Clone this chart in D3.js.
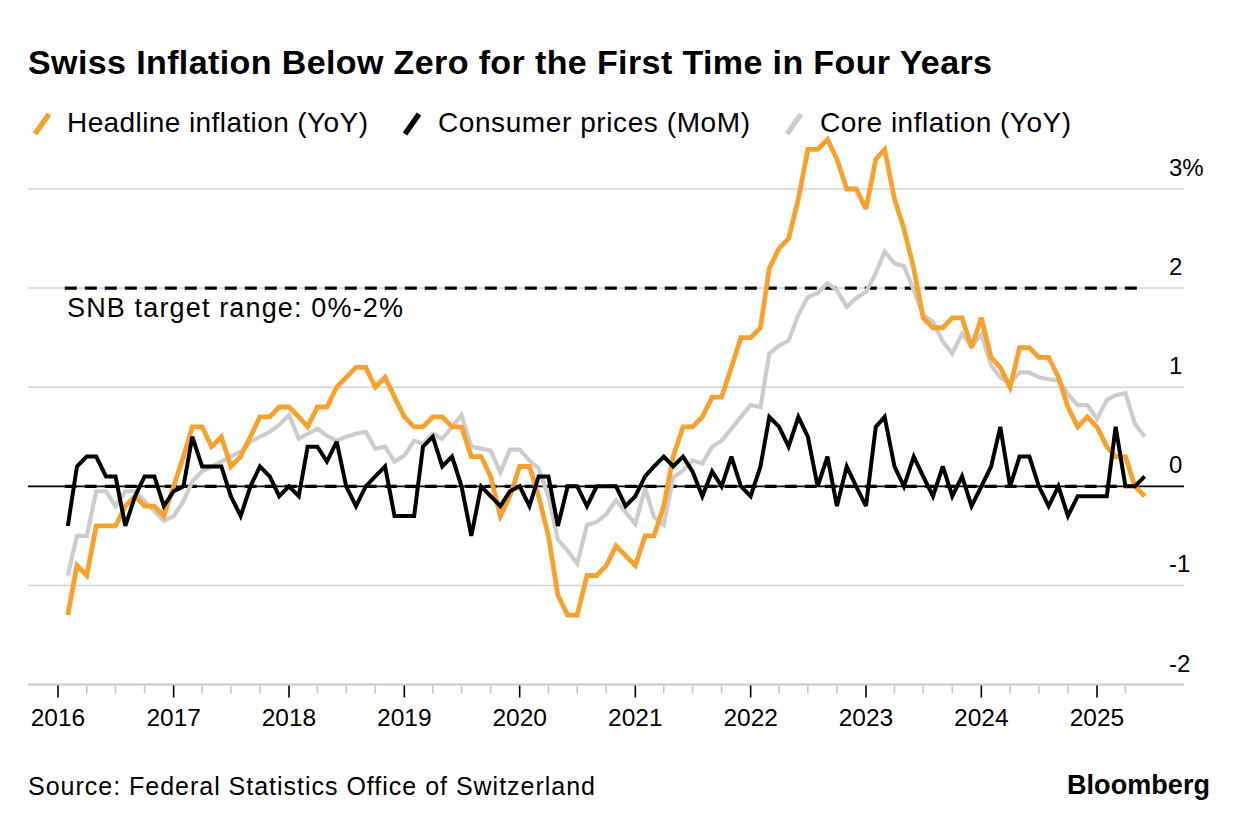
<!DOCTYPE html>
<html><head><meta charset="utf-8">
<script src="https://cdn.jsdelivr.net/npm/d3@7"></script>
<style>
body{margin:0;background:#fff;}
svg{display:block;}
text{font-family:"Liberation Sans",Arial,Helvetica,sans-serif;fill:#000;}
</style>
</head><body>
<svg id="chart" width="1240" height="828"></svg>
<script>
// ---------- DATA (monthly, Jan 2016 – May 2025) ----------
const firstMonth = [2016, 0]; // January 2016
const headline = [
  -1.3,-0.8,-0.9,-0.4,-0.4,-0.4,-0.2,-0.1,-0.2,-0.2,-0.3,0.0,
  0.3,0.6,0.6,0.4,0.5,0.2,0.3,0.5,0.7,0.7,0.8,0.8,
  0.7,0.6,0.8,0.8,1.0,1.1,1.2,1.2,1.0,1.1,0.9,0.7,
  0.6,0.6,0.7,0.7,0.6,0.6,0.3,0.3,0.1,-0.3,-0.1,0.2,
  0.2,-0.1,-0.5,-1.1,-1.3,-1.3,-0.9,-0.9,-0.8,-0.6,-0.7,-0.8,
  -0.5,-0.5,-0.2,0.3,0.6,0.6,0.7,0.9,0.9,1.2,1.5,1.5,
  1.6,2.2,2.4,2.5,2.9,3.4,3.4,3.5,3.3,3.0,3.0,2.8,
  3.3,3.4,2.9,2.6,2.2,1.7,1.6,1.6,1.7,1.7,1.4,1.7,
  1.3,1.2,1.0,1.4,1.4,1.3,1.3,1.1,0.8,0.6,0.7,0.6,
  0.4,0.3,0.3,0.0,-0.1
];
const mom = [
  -0.4,0.2,0.3,0.3,0.1,0.1,-0.4,-0.1,0.1,0.1,-0.2,-0.05,
  0.0,0.5,0.2,0.2,0.2,-0.1,-0.3,0.0,0.2,0.1,-0.1,0.0,
  -0.1,0.4,0.4,0.25,0.45,0.0,-0.2,0.0,0.1,0.2,-0.3,-0.3,
  -0.3,0.4,0.5,0.2,0.3,0.0,-0.5,0.0,-0.1,-0.2,-0.05,0.0,
  -0.2,0.1,0.1,-0.4,0.0,0.0,-0.2,0.0,0.0,0.0,-0.2,-0.1,
  0.1,0.2,0.3,0.2,0.3,0.15,-0.1,0.15,0.0,0.3,0.0,-0.1,
  0.2,0.7,0.6,0.4,0.7,0.5,0.0,0.3,-0.2,0.2,0.0,-0.2,
  0.6,0.7,0.2,0.0,0.3,0.1,-0.1,0.2,-0.1,0.1,-0.2,0.0,
  0.2,0.6,0.0,0.3,0.3,0.0,-0.2,0.0,-0.3,-0.1,-0.1,-0.1,
  -0.1,0.6,0.0,0.0,0.1
];
const core = [
  -0.9,-0.5,-0.5,-0.05,-0.05,-0.2,-0.05,-0.05,-0.15,-0.25,-0.35,-0.3,
  -0.15,0.05,0.15,0.2,0.25,0.3,0.35,0.45,0.5,0.55,0.62,0.72,
  0.48,0.53,0.58,0.51,0.46,0.5,0.53,0.55,0.38,0.4,0.25,0.31,
  0.46,0.43,0.53,0.48,0.6,0.72,0.4,0.38,0.36,0.14,0.37,0.37,
  0.26,0.18,-0.1,-0.54,-0.65,-0.78,-0.39,-0.36,-0.28,-0.14,-0.26,-0.38,
  -0.02,-0.31,-0.39,0.09,0.16,0.26,0.23,0.4,0.46,0.58,0.7,0.82,
  0.8,1.34,1.42,1.47,1.73,1.91,1.95,2.05,1.98,1.81,1.9,1.96,
  2.15,2.37,2.25,2.22,1.98,1.73,1.66,1.46,1.34,1.54,1.41,1.53,
  1.22,1.1,1.04,1.15,1.15,1.1,1.08,1.07,0.93,0.82,0.82,0.68,
  0.87,0.92,0.94,0.63,0.5
];
const yTicks = [-2,-1,0,1,2,3];
const yTickLabels = ["-2","-1","0","1","2","3%"];
const xYears = [2016,2017,2018,2019,2020,2021,2022,2023,2024,2025];
const targetRange = [0,2];
const seriesNames = ["Headline inflation (YoY)","Consumer prices (MoM)","Core inflation (YoY)"];
const titleText = "Swiss Inflation Below Zero for the First Time in Four Years";
const annotationText = "SNB target range: 0%-2%";
const sourceText = "Source: Federal Statistics Office of Switzerland";
const brandText = "Bloomberg";

// ---------- SETUP ----------
const colors = {headline:"#f9a12e", mom:"#000000", core:"#cccccc", grid:"#d3d3d3"};
const svg = d3.select("#chart");
// each monthly value plotted at end of its month
const dates = headline.map((_, i) => new Date(firstMonth[0], firstMonth[1] + i + 1, 1));

const x = d3.scaleTime()
  .domain([new Date(xYears[0],0,1), new Date(xYears[xYears.length-1],0,1)])
  .range([58, 1097]);
const y = d3.scaleLinear().domain([-2,3]).range([684.5,189]);
const left = 28, right = 1184;

function fitSpacing(sel, w){
  const node = sel.node();
  const len = node.getComputedTextLength();
  const n = node.textContent.length;
  if(n > 1) sel.attr("letter-spacing", ((w - len)/(n - 1)).toFixed(3));
  return sel;
}

// ---------- GRID ----------
const g = svg.append("g");
g.selectAll("line.grid").data(yTicks.filter(v => v !== 0 && v !== -2)).join("line")
  .attr("class","grid")
  .attr("x1", left).attr("x2", right)
  .attr("y1", d => y(d)).attr("y2", d => y(d))
  .attr("stroke", colors.grid).attr("stroke-width", 1.5);

// y labels (right)
g.selectAll("text.ylab").data(yTicks).join("text")
  .attr("class","ylab")
  .attr("x", 1169).attr("y", d => y(d) - 13)
  .attr("font-size", 24)
  .text((d,i) => yTickLabels[i]);

// x axis (baseline at -2)
g.append("line")
  .attr("x1", left).attr("x2", right)
  .attr("y1", y(-2)).attr("y2", y(-2))
  .attr("stroke", "#c8c8c8").attr("stroke-width", 1.8);
const tickDates = d3.timeMonth.every(3).range(new Date(2016,0,1), new Date(2025,4,1));
g.selectAll("line.xtick").data(tickDates).join("line")
  .attr("class","xtick")
  .attr("x1", d => x(d)).attr("x2", d => x(d))
  .attr("y1", y(-2) + 1)
  .attr("y2", d => d.getMonth() === 0 ? y(-2) + 13 : y(-2) + 9)
  .attr("stroke", d => d.getMonth() === 0 ? "#000" : "#c8c8c8")
  .attr("stroke-width", 1.6);
g.selectAll("text.xlab").data(xYears).join("text")
  .attr("class","xlab")
  .attr("x", d => x(new Date(d,0,1)))
  .attr("y", 726)
  .attr("text-anchor","middle")
  .attr("font-size", 24.5)
  .text(d => String(d));

// target range dashed lines
const dashX = d3.extent(dates);
g.selectAll("line.target").data(targetRange).join("line")
  .attr("class","target")
  .attr("x1", x(dashX[0]) - 3).attr("x2", x(dashX[1]) - 6)
  .attr("y1", d => y(d)).attr("y2", d => y(d))
  .attr("stroke", "#000").attr("stroke-width", 3.2)
  .attr("stroke-dasharray", "12,8");

// zero line
g.append("line")
  .attr("x1", left).attr("x2", right)
  .attr("y1", y(0)).attr("y2", y(0))
  .attr("stroke", "#000").attr("stroke-width", 1.7);

// annotation
fitSpacing(g.append("text")
  .attr("x", 67).attr("y", 317)
  .attr("font-size", 27)
  .text(annotationText), 336);

// ---------- LINES ----------
const line = d3.line().x((d,i) => x(dates[i])).y(d => y(d));
const seriesOrder = [
  {data: core, color: colors.core, w: 4.2},
  {data: headline, color: colors.headline, w: 4.8},
  {data: mom, color: colors.mom, w: 4.0}
];
svg.selectAll("path.series").data(seriesOrder).join("path")
  .attr("class","series")
  .attr("d", d => line(d.data))
  .attr("fill","none")
  .attr("stroke", d => d.color)
  .attr("stroke-width", d => d.w)
  .attr("stroke-linejoin","miter")
  .attr("stroke-miterlimit", 3);

// ---------- TITLE / LEGEND ----------
fitSpacing(svg.append("text")
  .attr("x", 28).attr("y", 74)
  .attr("font-size", 34).attr("font-weight", 700)
  .text(titleText), 964);

const legendItems = [
  {name: seriesNames[0], color: colors.headline, ix: 33, tx: 67, w: 301},
  {name: seriesNames[1], color: colors.mom, ix: 403, tx: 438, w: 312},
  {name: seriesNames[2], color: colors.core, ix: 785, tx: 820, w: 251}
];
legendItems.forEach(it => {
  svg.append("line")
    .attr("x1", it.ix + 2).attr("y1", 134)
    .attr("x2", it.ix + 16).attr("y2", 114)
    .attr("stroke", it.color).attr("stroke-width", 5.5);
  fitSpacing(svg.append("text")
    .attr("x", it.tx).attr("y", 132)
    .attr("font-size", 28)
    .text(it.name), it.w);
});

// ---------- FOOTER ----------
fitSpacing(svg.append("text")
  .attr("x", 28).attr("y", 795)
  .attr("font-size", 25)
  .text(sourceText), 567);
fitSpacing(svg.append("text")
  .attr("x", 1067).attr("y", 794)
  .attr("font-size", 27).attr("font-weight", 700)
  .text(brandText), 143);
</script>
</body></html>
